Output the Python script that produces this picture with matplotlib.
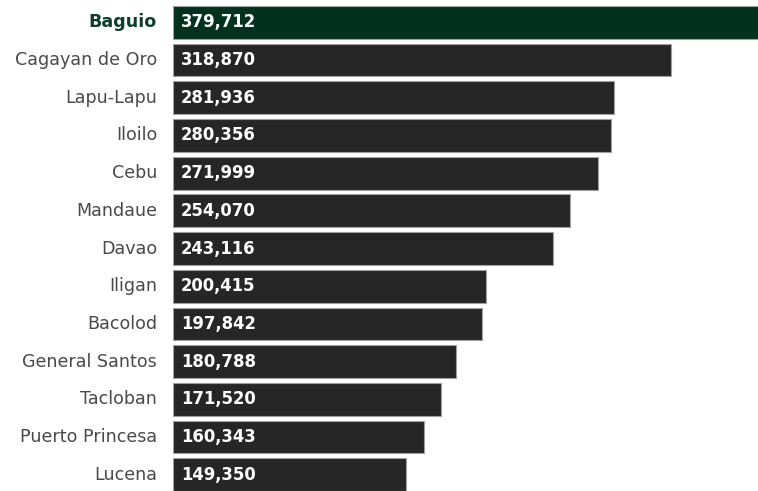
import matplotlib
matplotlib.use("Agg")
import matplotlib.pyplot as plt

cities = ["Baguio", "Cagayan de Oro", "Lapu-Lapu", "Iloilo", "Cebu", "Mandaue", "Davao",
          "Iligan", "Bacolod", "General Santos", "Tacloban", "Puerto Princesa", "Lucena"]
values = [379712, 318870, 281936, 280356, 271999, 254070, 243116,
          200415, 197842, 180788, 171520, 160343, 149350]
highlight = "Baguio"

W, H = 758, 491
fig = plt.figure(figsize=(W / 100, H / 100), dpi=100)
ax = fig.add_axes([173 / W, 0, 1 - 173 / W, 1])

ypos = list(range(len(cities)))
colors = ["#02311f" if c == highlight else "#262626" for c in cities]
ax.barh(ypos, values, height=0.87, color=colors, edgecolor="#a0a0a0", linewidth=0.8)
ax.set_xlim(0, 374300)
ax.set_ylim(12.43, -0.594)
ax.axis("off")

font = "DejaVu Sans"
for y, c, v in zip(ypos, cities, values):
    ax.text(-16 * 374300 / 585, y, c, ha="right", va="center",
            fontsize=12.6, family=font,
            color="#0f3d2c" if c == highlight else "#4a4a4a",
            fontweight="bold" if c == highlight else "normal")
    ax.text(8 * 374300 / 585, y, f"{v:,}", ha="left", va="center",
            fontsize=11.9, family=font, color="white", fontweight="bold")

fig.savefig("out.png", dpi=100)
